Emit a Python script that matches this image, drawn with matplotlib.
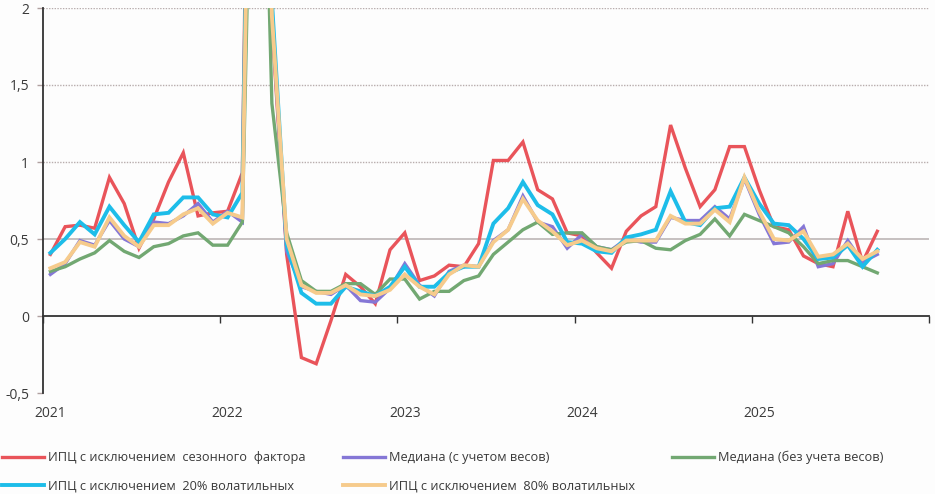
import matplotlib
matplotlib.use('Agg')
import matplotlib.pyplot as plt
import matplotlib.transforms as mtransforms
import numpy as np

# ---- data (monthly, Jan 2021 .. Sep 2025), % m/m SA ----
months = [f"{y}-{m:02d}" for y in range(2021, 2026) for m in range(1, 13)][:57]
n_slots = 60  # category axis spans Jan 2021 .. Dec 2025
year_labels = ['2021', '2022', '2023', '2024', '2025']

cpi_sa = [0.40, 0.58, 0.59, 0.57, 0.90, 0.73, 0.44, 0.63, 0.87, 1.06, 0.65, 0.67,
          0.68, 0.93, 7.60, 1.90, 0.40, -0.27, -0.31, -0.03, 0.27, 0.19, 0.08, 0.43,
          0.54, 0.23, 0.26, 0.33, 0.32, 0.47, 1.01, 1.01, 1.13, 0.82, 0.76, 0.54,
          0.52, 0.41, 0.31, 0.55, 0.65, 0.71, 1.24, 0.96, 0.71, 0.82, 1.10, 1.10,
          0.82, 0.58, 0.56, 0.39, 0.34, 0.32, 0.68, 0.35, 0.55]
median_w = [0.27, 0.34, 0.49, 0.46, 0.62, 0.50, 0.45, 0.61, 0.60, 0.65, 0.73, 0.61,
            0.68, 0.61, 6.20, 1.95, 0.42, 0.19, 0.16, 0.14, 0.20, 0.10, 0.09, 0.18,
            0.34, 0.20, 0.13, 0.29, 0.33, 0.32, 0.49, 0.56, 0.78, 0.61, 0.58, 0.44,
            0.53, 0.45, 0.43, 0.50, 0.48, 0.48, 0.64, 0.62, 0.62, 0.71, 0.63, 0.89,
            0.66, 0.47, 0.48, 0.58, 0.32, 0.34, 0.49, 0.35, 0.40]
median_nw = [0.29, 0.32, 0.37, 0.41, 0.49, 0.42, 0.38, 0.45, 0.47, 0.52, 0.54, 0.46,
             0.46, 0.61, 5.00, 1.38, 0.54, 0.23, 0.16, 0.16, 0.21, 0.21, 0.14, 0.24,
             0.24, 0.11, 0.16, 0.16, 0.23, 0.26, 0.40, 0.48, 0.56, 0.61, 0.53, 0.54,
             0.54, 0.45, 0.43, 0.48, 0.49, 0.44, 0.43, 0.49, 0.53, 0.63, 0.52, 0.66,
             0.62, 0.58, 0.54, 0.45, 0.34, 0.36, 0.36, 0.32, 0.28]
excl20 = [0.41, 0.50, 0.61, 0.53, 0.71, 0.59, 0.48, 0.66, 0.67, 0.77, 0.77, 0.66,
          0.64, 0.80, 6.80, 2.05, 0.46, 0.15, 0.08, 0.08, 0.19, 0.16, 0.13, 0.19,
          0.32, 0.19, 0.19, 0.28, 0.32, 0.32, 0.60, 0.70, 0.87, 0.72, 0.66, 0.48,
          0.47, 0.42, 0.41, 0.51, 0.53, 0.56, 0.81, 0.61, 0.59, 0.70, 0.71, 0.90,
          0.73, 0.60, 0.59, 0.50, 0.37, 0.38, 0.46, 0.32, 0.43]
excl80 = [0.31, 0.35, 0.48, 0.45, 0.64, 0.52, 0.45, 0.59, 0.59, 0.66, 0.70, 0.60,
          0.67, 0.64, 6.50, 1.95, 0.50, 0.20, 0.15, 0.15, 0.20, 0.14, 0.13, 0.17,
          0.27, 0.19, 0.14, 0.27, 0.33, 0.32, 0.48, 0.56, 0.76, 0.62, 0.55, 0.46,
          0.49, 0.44, 0.42, 0.49, 0.49, 0.49, 0.65, 0.60, 0.60, 0.69, 0.61, 0.90,
          0.68, 0.50, 0.49, 0.55, 0.385, 0.40, 0.47, 0.37, 0.42]

labels = ['ИПЦ с исключением  сезонного  фактора',
          'Медиана (с учетом весов)',
          'Медиана (без учета весов)',
          'ИПЦ с исключением  20% волатильных',
          'ИПЦ с исключением  80% волатильных']
colors = ['#E9545A', '#8577D6', '#72A872', '#1DBDE9', '#F6CB8C']
widths = [2.4, 2.4, 2.4, 2.8, 2.8]
series = [cpi_sa, median_w, median_nw, excl20, excl80]

plt.rcParams['font.family'] = ['Open Sans', 'DejaVu Sans']
txt = '#3a3a3a'

fig = plt.figure(figsize=(9.35, 4.94), dpi=100)
fig.patch.set_facecolor('#fdfdfd')
ax = fig.add_axes([43/935, 1-393/494, (929-43)/935, (393-8)/494])
ax.set_facecolor('#fdfdfd')

x = np.arange(len(months))
handles = []
for vals, lab, c, w in zip(series, labels, colors, widths):
    h, = ax.plot(x, vals, color=c, lw=w, label=lab, solid_joinstyle='miter', zorder=3)
    handles.append(h)

ax.set_xlim(-0.5, n_slots - 0.5)
ax.set_ylim(-0.5, 2.0)

# gridlines
for gv in [1.0, 1.5, 2.0]:
    ax.axhline(gv, color='#b8adad', lw=1.0, ls=(0, (1, 1)), zorder=1)
ax.axhline(0.5, color='#bdb5b5', lw=1.2, zorder=1)

# spines
for s in ['top', 'right']:
    ax.spines[s].set_visible(False)
ax.spines['left'].set_color('#333333')
ax.spines['left'].set_linewidth(1.3)
ax.spines['bottom'].set_position(('data', 0))
ax.spines['bottom'].set_color('#333333')
ax.spines['bottom'].set_linewidth(1.3)

# y ticks
ax.set_yticks([-0.5, 0, 0.5, 1, 1.5, 2])
ax.set_yticklabels(['-0,5', '0', '0,5', '1', '1,5', '2'], fontsize=10, color=txt)
ax.tick_params(axis='y', length=4, width=1, color='#b0a0a0', pad=6)

# x ticks at year boundaries
ax.set_xticks(np.arange(-0.5, n_slots, 12))
ax.set_xticklabels([])
ax.tick_params(axis='x', length=5, width=1, color='#333333', direction='out')

trans = mtransforms.blended_transform_factory(ax.transData, ax.transAxes)
for k, yl in enumerate(year_labels):
    ax.text(k * 12, -20/385, yl, transform=trans, ha='center', va='center',
            fontsize=10, color=txt)

order = [0, 3, 1, 4, 2]
leg = fig.legend([handles[i] for i in order], [labels[i] for i in order],
                 ncol=3, loc='upper left', bbox_to_anchor=(2/935, 1-451/494),
                 frameon=False, fontsize=9.2, handlelength=3.3, handletextpad=0.3,
                 columnspacing=2.9, labelspacing=1.2, borderpad=0, borderaxespad=0)
for t in leg.get_texts():
    t.set_color(txt)

fig.savefig('out.png', dpi=100, facecolor=fig.get_facecolor())
